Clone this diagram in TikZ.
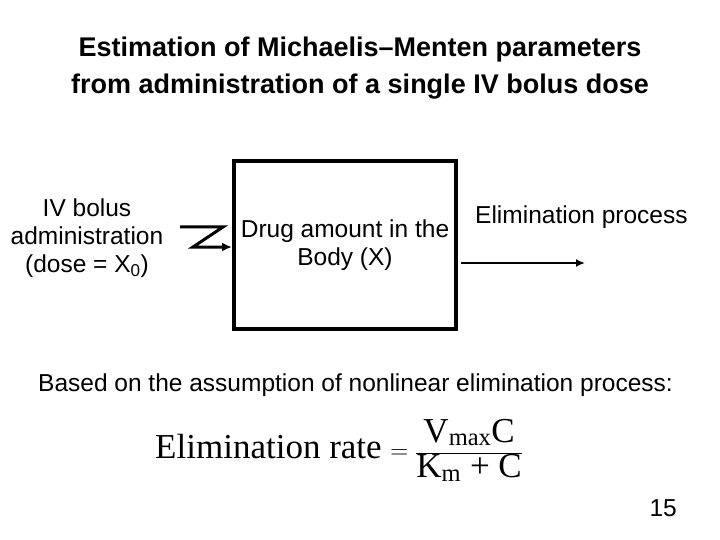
\documentclass[tikz,border=0pt]{standalone}
\usepackage{fontspec}
\setmainfont{Liberation Sans}
\newfontfamily\serifx{Liberation Serif}
\usetikzlibrary{arrows.meta}
\begin{document}
\begin{tikzpicture}[x=1pt,y=-1pt,
  txt/.style={font=\fontsize{24.5}{28}\selectfont,align=center,inner sep=0pt},
  line/.style={line width=3.5pt}]
\useasboundingbox (0,0) rectangle (720,540);
\node[font=\bfseries\fontsize{27}{37}\selectfont,align=center] (title) at (360,68) {Estimation of Michaelis--Menten parameters\\from administration of a single IV bolus dose};
\node[txt] (iv) at (87,238) {IV bolus\\administration\\(dose = X\textsubscript{0})};
\draw[line width=3.5pt] (234,161) rectangle (456,329);
\node[txt] (body) at (345,245) {Drug amount in the\\Body (X)};
\coordinate (z0) at (180,227);
\coordinate (z1) at (223,227);
\coordinate (z2) at (193,247);
\coordinate (z3) at (232,247);
\draw[line width=3pt,-{Latex[length=10pt,width=9pt]},line join=miter] (z0) -- (z1) -- (z2) -- (z3);
\node[txt,anchor=west] (elim) at (475,217) {Elimination process};
\coordinate (a0) at (461,263);
\coordinate (a1) at (585,263);
\draw[line width=1.8pt,-{Latex[length=9pt,width=8pt]}] (a0) -- (a1);
\node[txt,anchor=west] (assump) at (38,385) {Based on the assumption of nonlinear elimination process:};
\node[font=\serifx\fontsize{35}{40}\selectfont,anchor=west,inner sep=0pt] (eq) at (155,450)
 {Elimination rate $=\displaystyle\frac{\hbox{V\textsubscript{max}C}}{\hbox{K\textsubscript{m} + C}}$};
\node[txt,anchor=east] (num) at (677,508) {15};
\end{tikzpicture}
\end{document}
